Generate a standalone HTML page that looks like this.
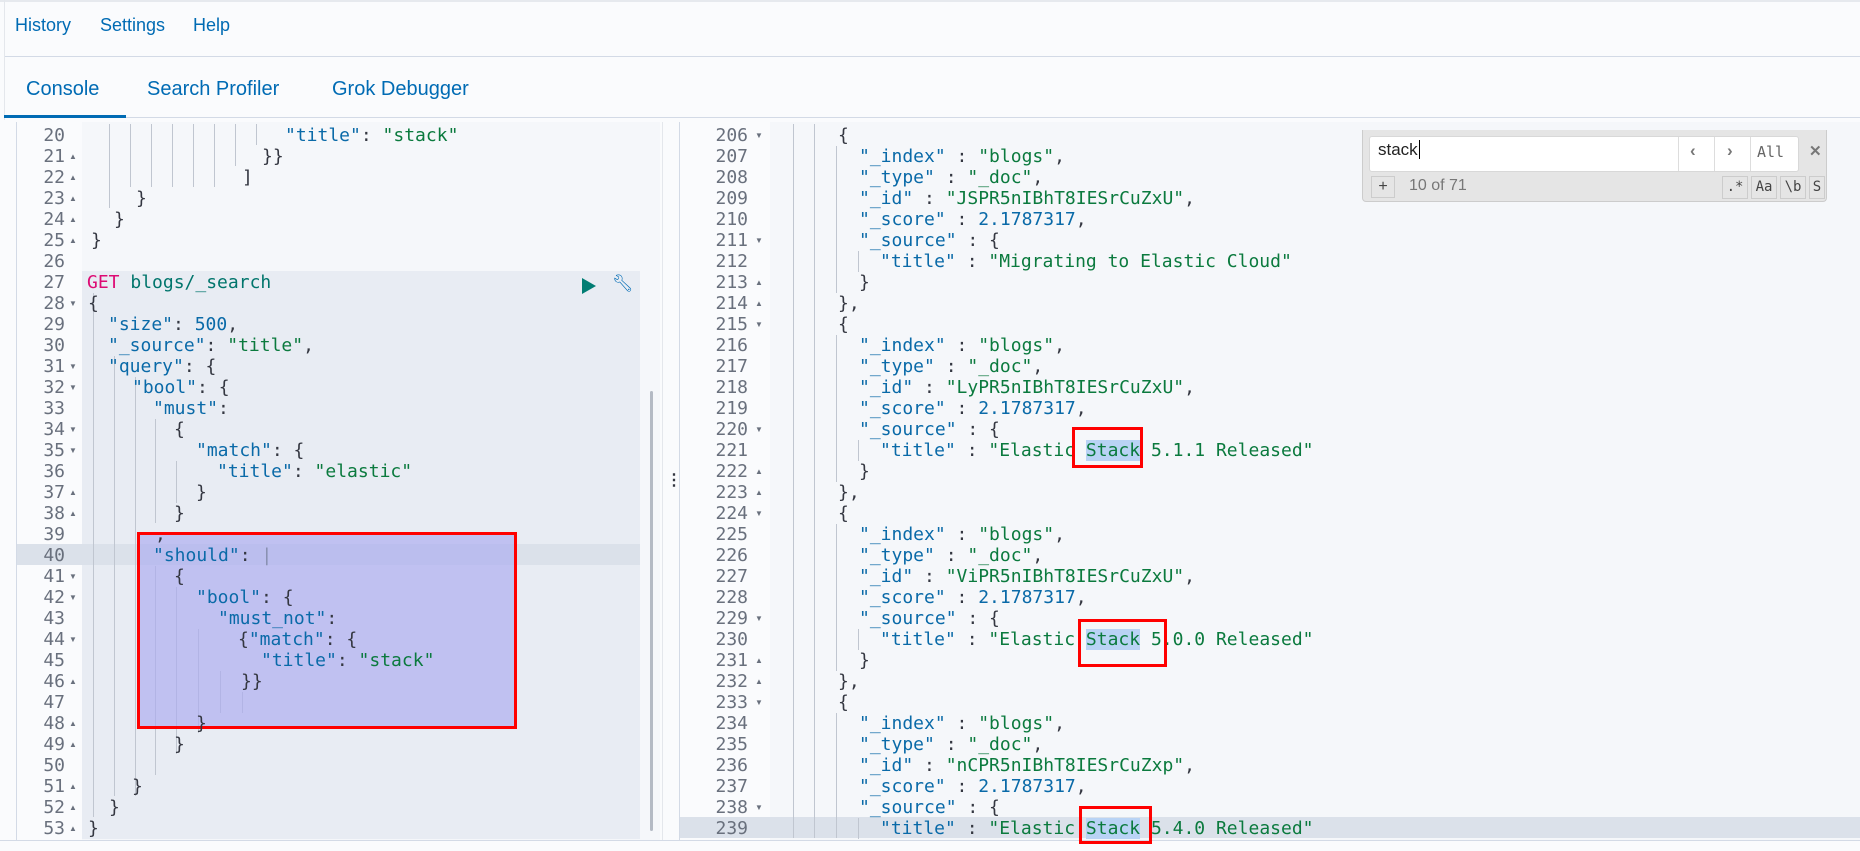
<!DOCTYPE html>
<html><head><meta charset="utf-8"><style>
*{margin:0;padding:0;box-sizing:border-box}
body{width:1860px;height:851px;background:#fafbfd;position:relative;overflow:hidden;font-family:"Liberation Sans",sans-serif}
.a{position:absolute}
.nav{color:#006bb4;font-size:18px}
.tab{color:#006bb4;font-size:20px}
.c{position:absolute;height:21px;line-height:21px;font-family:"DejaVu Sans Mono","Liberation Mono",monospace;font-size:18px;white-space:pre;color:#343741}
.n{color:#69707d;text-align:right}
.k{color:#0a6aa8}.s{color:#0b7a3e}.m{color:#dd0a73}.p{color:#00756c}.num{color:#0a6aa8}
.f{position:absolute;font-size:8px;color:#69707d}
.g{position:absolute;width:1px;background:#c0c6d0}
.hl{background:#b9d3f5}
</style></head><body>
<div class="a" style="left:0;top:0;width:1860px;height:2px;background:#e6e9ee"></div>
<div class="a nav" style="left:15px;top:15px">History</div>
<div class="a nav" style="left:100px;top:15px">Settings</div>
<div class="a nav" style="left:193px;top:15px">Help</div>
<div class="a" style="left:4px;top:56px;width:1856px;height:1px;background:#d3dae6"></div>
<div class="a" style="left:4px;top:0;width:1px;height:120px;background:#e4e7ec"></div>
<div class="a tab" style="left:26px;top:78px">Console</div>
<div class="a tab" style="left:147px;top:78px">Search Profiler</div>
<div class="a tab" style="left:332px;top:78px">Grok Debugger</div>
<div class="a" style="left:4px;top:117px;width:1856px;height:1px;background:#d3dae6"></div>
<div class="a" style="left:4px;top:115px;width:122px;height:3px;background:#006bb4"></div>

<!-- left editor -->
<div class="a" style="left:17px;top:122px;width:66px;height:718px;background:#fafbfd"></div>
<div class="a" style="left:16px;top:122px;width:1px;height:718px;background:#d3dae6"></div>
<div class="a" style="left:82px;top:122px;width:578px;height:718px;background:#f5f7fa"></div>
<div class="a" style="left:82px;top:271px;width:558px;height:568px;background:#e8ecf3"></div>
<div class="a" style="left:17px;top:544px;width:623px;height:21px;background:#dbe1ea"></div>
<div class="a" style="left:650px;top:391px;width:3px;height:440px;background:#b4bac4;border-radius:2px"></div>
<div class="a" style="left:662px;top:122px;width:1px;height:718px;background:#e4e7ec"></div>
<div class="a" style="left:666px;top:470px;color:#343741;font-size:16px;font-weight:bold">⋮</div>

<!-- left guides -->
<div class="g" style="left:109px;top:124px;height:84px"></div>
<div class="g" style="left:130px;top:124px;height:63px"></div>
<div class="g" style="left:151px;top:124px;height:63px"></div>
<div class="g" style="left:172px;top:124px;height:63px"></div>
<div class="g" style="left:193px;top:124px;height:63px"></div>
<div class="g" style="left:214px;top:124px;height:63px"></div>
<div class="g" style="left:235px;top:124px;height:42px"></div>
<div class="g" style="left:256px;top:124px;height:21px"></div>
<div class="g" style="left:93px;top:293px;height:524px"></div>
<div class="g" style="left:114px;top:356px;height:440px"></div>
<div class="g" style="left:135px;top:377px;height:419px"></div>
<div class="g" style="left:155px;top:419px;height:104px"></div>
<div class="g" style="left:155px;top:566px;height:209px"></div>
<div class="g" style="left:176px;top:461px;height:42px"></div>
<div class="g" style="left:176px;top:587px;height:167px"></div>
<div class="g" style="left:198px;top:629px;height:104px"></div>
<div class="g" style="left:220px;top:671px;height:42px"></div>
<div class="g" style="left:242px;top:692px;height:21px"></div>

<!-- left numbers -->
<div class="c n" style="left:10px;width:55px;top:125px">20<br>21<br>22<br>23<br>24<br>25<br>26<br>27<br>28<br>29<br>30<br>31<br>32<br>33<br>34<br>35<br>36<br>37<br>38<br>39<br>40<br>41<br>42<br>43<br>44<br>45<br>46<br>47<br>48<br>49<br>50<br>51<br>52<br>53</div>
<div class="f" style="left:69px;top:152px">▲</div><div class="f" style="left:69px;top:173px">▲</div><div class="f" style="left:69px;top:194px">▲</div><div class="f" style="left:69px;top:215px">▲</div><div class="f" style="left:69px;top:236px">▲</div>
<div class="f" style="left:69px;top:299px">▼</div><div class="f" style="left:69px;top:362px">▼</div><div class="f" style="left:69px;top:383px">▼</div><div class="f" style="left:69px;top:425px">▼</div><div class="f" style="left:69px;top:446px">▼</div><div class="f" style="left:69px;top:488px">▲</div><div class="f" style="left:69px;top:509px">▲</div>
<div class="f" style="left:69px;top:572px">▼</div><div class="f" style="left:69px;top:593px">▼</div><div class="f" style="left:69px;top:635px">▼</div><div class="f" style="left:69px;top:677px">▲</div><div class="f" style="left:69px;top:719px">▲</div><div class="f" style="left:69px;top:740px">▲</div><div class="f" style="left:69px;top:782px">▲</div><div class="f" style="left:69px;top:803px">▲</div><div class="f" style="left:69px;top:824px">▲</div>

<!-- left code -->
<div class="c" style="left:285px;top:125px"><span class="k">"title"</span>: <span class="s">"stack"</span></div>
<div class="c" style="left:262px;top:146px">}}</div>
<div class="c" style="left:242px;top:167px">]</div>
<div class="c" style="left:136px;top:188px">}</div>
<div class="c" style="left:114px;top:209px">}</div>
<div class="c" style="left:91px;top:230px">}</div>
<div class="c" style="left:87px;top:272px"><span class="m">GET</span> <span class="p">blogs/_search</span></div>
<div class="a" style="left:582px;top:278px;width:0;height:0;border-left:14px solid #017d73;border-top:8px solid transparent;border-bottom:8px solid transparent"></div>
<div class="a" style="left:612px;top:274px;color:#006bb4;font-size:17px">🔧︎</div>
<div class="c" style="left:88px;top:293px">{</div>
<div class="c" style="left:108px;top:314px"><span class="k">"size"</span>: <span class="num">500</span>,</div>
<div class="c" style="left:108px;top:335px"><span class="k">"_source"</span>: <span class="s">"title"</span>,</div>
<div class="c" style="left:108px;top:356px"><span class="k">"query"</span>: {</div>
<div class="c" style="left:132px;top:377px"><span class="k">"bool"</span>: {</div>
<div class="c" style="left:153px;top:398px"><span class="k">"must"</span>:</div>
<div class="c" style="left:174px;top:419px">{</div>
<div class="c" style="left:196px;top:440px"><span class="k">"match"</span>: {</div>
<div class="c" style="left:217px;top:461px"><span class="k">"title"</span>: <span class="s">"elastic"</span></div>
<div class="c" style="left:196px;top:482px">}</div>
<div class="c" style="left:174px;top:503px">}</div>

<!-- red box left -->
<div class="a" style="left:137px;top:532px;width:380px;height:197px;background:rgba(170,170,240,0.65);border:3px solid #f00"></div>
<div class="c" style="left:155px;top:524px">,</div>
<div class="c" style="left:153px;top:545px"><span class="k">"should"</span>: <span style="color:#8890b0">|</span></div>
<div class="c" style="left:174px;top:566px">{</div>
<div class="c" style="left:196px;top:587px"><span class="k">"bool"</span>: {</div>
<div class="c" style="left:218px;top:608px"><span class="k">"must_not"</span>:</div>
<div class="c" style="left:238px;top:629px">{<span class="k">"match"</span>: {</div>
<div class="c" style="left:261px;top:650px"><span class="k">"title"</span>: <span class="s">"stack"</span></div>
<div class="c" style="left:241px;top:671px">}}</div>
<div class="c" style="left:196px;top:713px">}</div>
<div class="c" style="left:174px;top:734px">}</div>
<div class="c" style="left:132px;top:776px">}</div>
<div class="c" style="left:109px;top:797px">}</div>
<div class="c" style="left:88px;top:818px">}</div>

<!-- right editor -->
<div class="a" style="left:680px;top:122px;width:1180px;height:718px;background:#f5f7fa"></div>
<div class="a" style="left:680px;top:122px;width:90px;height:718px;background:#fafbfd"></div>
<div class="a" style="left:679px;top:122px;width:1px;height:718px;background:#d3dae6"></div>
<div class="a" style="left:680px;top:817px;width:1180px;height:21px;background:#dbe1ea"></div>
<div class="a" style="left:0;top:840px;width:1860px;height:1px;background:#d3dae6"></div>
<div class="g" style="left:793px;top:124px;height:714px"></div>
<div class="g" style="left:814px;top:124px;height:714px"></div>
<div class="g" style="left:836px;top:146px;height:147px"></div>
<div class="g" style="left:836px;top:335px;height:147px"></div>
<div class="g" style="left:836px;top:524px;height:147px"></div>
<div class="g" style="left:836px;top:713px;height:125px"></div>
<div class="g" style="left:858px;top:251px;height:21px"></div>
<div class="g" style="left:858px;top:440px;height:21px"></div>
<div class="g" style="left:858px;top:629px;height:21px"></div>
<div class="g" style="left:858px;top:818px;height:21px"></div>

<div class="c n" style="left:690px;width:58px;top:125px">206<br>207<br>208<br>209<br>210<br>211<br>212<br>213<br>214<br>215<br>216<br>217<br>218<br>219<br>220<br>221<br>222<br>223<br>224<br>225<br>226<br>227<br>228<br>229<br>230<br>231<br>232<br>233<br>234<br>235<br>236<br>237<br>238<br>239</div>
<div class="f" style="left:755px;top:131px">▼</div><div class="f" style="left:755px;top:236px">▼</div><div class="f" style="left:755px;top:278px">▲</div><div class="f" style="left:755px;top:299px">▲</div><div class="f" style="left:755px;top:320px">▼</div><div class="f" style="left:755px;top:425px">▼</div><div class="f" style="left:755px;top:467px">▲</div><div class="f" style="left:755px;top:488px">▲</div><div class="f" style="left:755px;top:509px">▼</div><div class="f" style="left:755px;top:614px">▼</div><div class="f" style="left:755px;top:656px">▲</div><div class="f" style="left:755px;top:677px">▲</div><div class="f" style="left:755px;top:698px">▼</div><div class="f" style="left:755px;top:803px">▼</div>

<div class="c" style="left:838px;top:125px">{</div>
<div class="c" style="left:859px;top:146px"><span class="k">"_index"</span> : <span class="s">"blogs"</span>,</div>
<div class="c" style="left:859px;top:167px"><span class="k">"_type"</span> : <span class="s">"_doc"</span>,</div>
<div class="c" style="left:859px;top:188px"><span class="k">"_id"</span> : <span class="s">"JSPR5nIBhT8IESrCuZxU"</span>,</div>
<div class="c" style="left:859px;top:209px"><span class="k">"_score"</span> : <span class="num">2.1787317</span>,</div>
<div class="c" style="left:859px;top:230px"><span class="k">"_source"</span> : {</div>
<div class="c" style="left:880px;top:251px"><span class="k">"title"</span> : <span class="s">"Migrating to Elastic Cloud"</span></div>
<div class="c" style="left:859px;top:272px">}</div>
<div class="c" style="left:838px;top:293px">},</div>
<div class="c" style="left:838px;top:314px">{</div>
<div class="c" style="left:859px;top:335px"><span class="k">"_index"</span> : <span class="s">"blogs"</span>,</div>
<div class="c" style="left:859px;top:356px"><span class="k">"_type"</span> : <span class="s">"_doc"</span>,</div>
<div class="c" style="left:859px;top:377px"><span class="k">"_id"</span> : <span class="s">"LyPR5nIBhT8IESrCuZxU"</span>,</div>
<div class="c" style="left:859px;top:398px"><span class="k">"_score"</span> : <span class="num">2.1787317</span>,</div>
<div class="c" style="left:859px;top:419px"><span class="k">"_source"</span> : {</div>
<div class="c" style="left:880px;top:440px"><span class="k">"title"</span> : <span class="s">"Elastic <span class="hl">Stack</span> 5.1.1 Released"</span></div>
<div class="c" style="left:859px;top:461px">}</div>
<div class="c" style="left:838px;top:482px">},</div>
<div class="c" style="left:838px;top:503px">{</div>
<div class="c" style="left:859px;top:524px"><span class="k">"_index"</span> : <span class="s">"blogs"</span>,</div>
<div class="c" style="left:859px;top:545px"><span class="k">"_type"</span> : <span class="s">"_doc"</span>,</div>
<div class="c" style="left:859px;top:566px"><span class="k">"_id"</span> : <span class="s">"ViPR5nIBhT8IESrCuZxU"</span>,</div>
<div class="c" style="left:859px;top:587px"><span class="k">"_score"</span> : <span class="num">2.1787317</span>,</div>
<div class="c" style="left:859px;top:608px"><span class="k">"_source"</span> : {</div>
<div class="c" style="left:880px;top:629px"><span class="k">"title"</span> : <span class="s">"Elastic <span class="hl">Stack</span> 5.0.0 Released"</span></div>
<div class="c" style="left:859px;top:650px">}</div>
<div class="c" style="left:838px;top:671px">},</div>
<div class="c" style="left:838px;top:692px">{</div>
<div class="c" style="left:859px;top:713px"><span class="k">"_index"</span> : <span class="s">"blogs"</span>,</div>
<div class="c" style="left:859px;top:734px"><span class="k">"_type"</span> : <span class="s">"_doc"</span>,</div>
<div class="c" style="left:859px;top:755px"><span class="k">"_id"</span> : <span class="s">"nCPR5nIBhT8IESrCuZxp"</span>,</div>
<div class="c" style="left:859px;top:776px"><span class="k">"_score"</span> : <span class="num">2.1787317</span>,</div>
<div class="c" style="left:859px;top:797px"><span class="k">"_source"</span> : {</div>
<div class="c" style="left:880px;top:818px"><span class="k">"title"</span> : <span class="s">"Elastic <span class="hl">Stack</span> 5.4.0 Released"</span></div>

<!-- red boxes right -->
<div class="a" style="left:1072px;top:427px;width:71px;height:41px;border:3px solid #f00"></div>
<div class="a" style="left:1078px;top:619px;width:89px;height:48px;border:3px solid #f00"></div>
<div class="a" style="left:1079px;top:806px;width:73px;height:38px;border:3px solid #f00"></div>

<!-- search box -->
<div class="a" style="left:1362px;top:130px;width:465px;height:72px;background:#e5e5e5;border:1px solid #ccc;border-top:none;border-radius:0 0 4px 4px"></div>
<div class="a" style="left:1369px;top:136px;width:430px;height:36px;background:#fff;border:1px solid #d8d8d8;border-radius:3px"></div>
<div class="a" style="left:1378px;top:140px;font-size:17px;color:#222">stack<span style="border-left:1px solid #000;margin-left:1px"></span></div>
<div class="a" style="left:1678px;top:137px;width:1px;height:34px;background:#ddd"></div>
<div class="a" style="left:1714px;top:137px;width:1px;height:34px;background:#ddd"></div>
<div class="a" style="left:1750px;top:137px;width:1px;height:34px;background:#ddd"></div>
<div class="a" style="left:1690px;top:141px;font-size:17px;color:#777;font-weight:bold">‹</div>
<div class="a" style="left:1727px;top:141px;font-size:17px;color:#777;font-weight:bold">›</div>
<div class="a" style="left:1757px;top:143px;font-family:'DejaVu Sans Mono',monospace;font-size:15px;color:#666">All</div>
<div class="a" style="left:1809px;top:142px;font-size:15px;color:#777;font-weight:bold">✕</div>
<div class="a" style="left:1371px;top:176px;width:24px;height:22px;border:1px solid #ccc;font-size:16px;color:#444;text-align:center;line-height:20px">+</div>
<div class="a" style="left:1409px;top:177px;font-size:16px;color:#777">10 of 71</div>
<div class="a" style="left:1722px;top:176px;width:26px;height:23px;border:1px solid #ccc;font-family:'DejaVu Sans Mono',monospace;font-size:14px;color:#444;text-align:center;line-height:21px">.*</div>
<div class="a" style="left:1751px;top:176px;width:26px;height:23px;border:1px solid #ccc;font-family:'DejaVu Sans Mono',monospace;font-size:14px;color:#444;text-align:center;line-height:21px">Aa</div>
<div class="a" style="left:1780px;top:176px;width:26px;height:23px;border:1px solid #ccc;font-family:'DejaVu Sans Mono',monospace;font-size:14px;color:#444;text-align:center;line-height:21px">\b</div>
<div class="a" style="left:1809px;top:176px;width:16px;height:23px;border:1px solid #ccc;font-family:'DejaVu Sans Mono',monospace;font-size:14px;color:#444;text-align:center;line-height:21px">S</div>
</body></html>
